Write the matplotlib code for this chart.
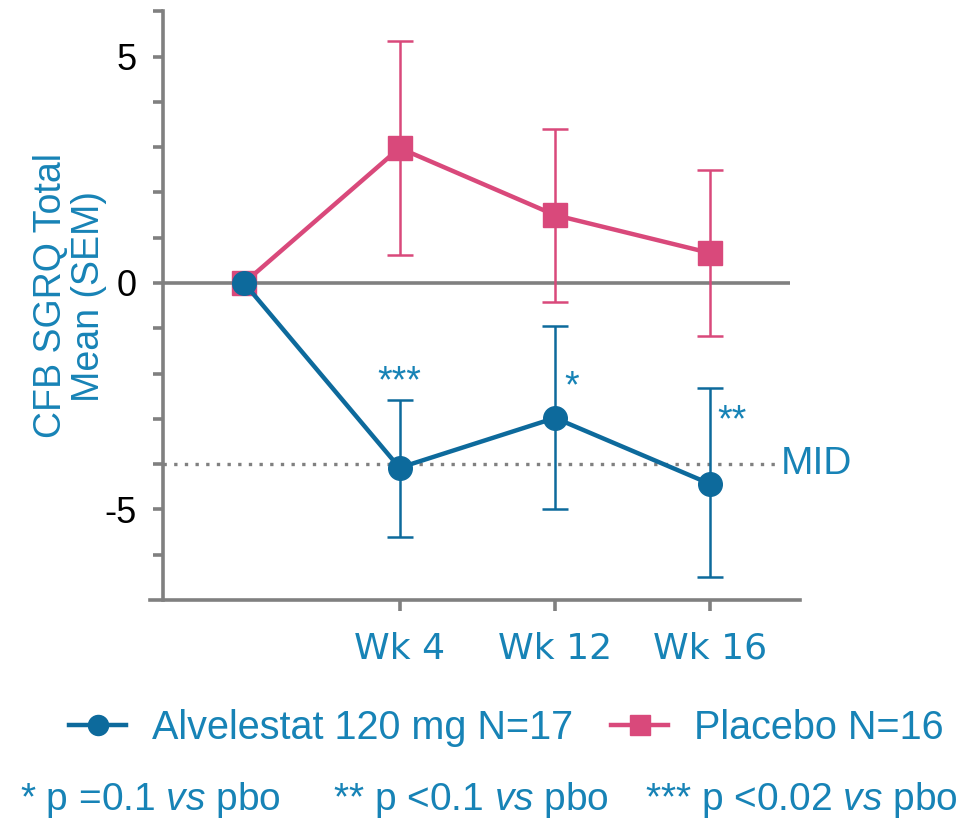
import matplotlib
matplotlib.use("Agg")
import matplotlib.pyplot as plt
import numpy as np

plt.rcParams['font.family'] = ['Liberation Sans', 'DejaVu Sans']
plt.rcParams['mathtext.fontset'] = 'custom'
plt.rcParams['mathtext.rm'] = 'Liberation Sans'
plt.rcParams['mathtext.it'] = 'Liberation Sans:italic'

# ---- data ----
x_pos = [0, 1, 2, 3]
x_ticks = [1, 2, 3]
x_labels = ["Wk 4", "Wk 12", "Wk 16"]

alv_mean = [0.0, -4.08, -2.98, -4.44]
alv_low = [-5.61, -4.99, -6.49]
alv_high = [-2.58, -0.95, -2.32]

pbo_mean = [0.0, 2.98, 1.50, 0.66]
pbo_low = [0.62, -0.42, -1.17]
pbo_high = [5.34, 3.40, 2.49]

mid_value = -4.0
stars = ["***", "*", "**"]
star_x = [1.0, 2.11, 3.14]
star_y = [-2.2, -2.3, -3.05]

alv_label = "Alvelestat 120 mg N=17"
pbo_label = "Placebo N=16"
footnotes = [r"* p =0.1 $\mathit{vs}$ pbo", r"** p <0.1 $\mathit{vs}$ pbo", r"*** p <0.02 $\mathit{vs}$ pbo"]

# ---- style ----
BLUE = "#0d6a9c"
TXT = "#1783b6"
PINK = "#d9497b"
GRAY = "#808080"

W, H = 979, 819
fig = plt.figure(figsize=(W / 100, H / 100), dpi=100)
ax = fig.add_axes([150 / W, 1 - 600 / H, 650 / W, (600 - 9) / H])

ax.set_xlim(-0.605, 3.576)
ax.set_ylim(-7, 6.05)

# zero line and MID line
ax.plot([-0.52, 3.51], [0, 0], color=GRAY, lw=2.6, zorder=1, solid_capstyle='butt')
ax.plot([-0.52, 3.43], [mid_value, mid_value], color=GRAY, lw=2.4, ls=(0, (1, 2.2)), zorder=1)
ax.text(3.45, mid_value, "MID", color=TXT, fontsize=28, va='center', ha='left')

# placebo
xe = x_pos[1:]
pm = np.array(pbo_mean[1:])
ax.errorbar(xe, pm, yerr=[pm - np.array(pbo_low), np.array(pbo_high) - pm],
            fmt='none', ecolor=PINK, elinewidth=1.8, capsize=9.5, capthick=1.8, zorder=2)
lp, = ax.plot(x_pos, pbo_mean, color=PINK, lw=3.2, marker='s', ms=17, label=pbo_label, zorder=3)

# alvelestat
am = np.array(alv_mean[1:])
ax.errorbar(xe, am, yerr=[am - np.array(alv_low), np.array(alv_high) - am],
            fmt='none', ecolor=BLUE, elinewidth=1.8, capsize=9.5, capthick=1.8, zorder=4)
la, = ax.plot(x_pos, alv_mean, color=BLUE, lw=3.2, marker='o', ms=17, label=alv_label, zorder=5)

for s, sx, sy in zip(stars, star_x, star_y):
    ax.text(sx, sy, s, color=TXT, fontsize=27, ha='center', va='center')

# spines
for s in ['top', 'right']:
    ax.spines[s].set_visible(False)
ax.spines['left'].set_position(('data', -0.52))
ax.spines['left'].set_bounds(-7, 6)
for s in ['left', 'bottom']:
    ax.spines[s].set_color(GRAY)
    ax.spines[s].set_linewidth(2.6)

ax.set_yticks([-5, 0, 5])
ax.set_yticklabels(["-5", "0", "5"])
ax.set_yticks([v for v in range(-6, 7) if v not in (-5, 0, 5)], minor=True)
ax.tick_params(axis='y', which='both', direction='out', length=7, width=2.6, color=GRAY,
               labelsize=26, labelcolor='black', pad=12)
ax.set_xticks(x_ticks)
ax.set_xticklabels(x_labels, fontfamily='DejaVu Sans')
ax.tick_params(axis='x', direction='out', length=8, width=2.6, color=GRAY,
               labelsize=26, labelcolor=TXT, pad=15)

fig.text(70 / W, 1 - 296 / H, "CFB SGRQ Total\nMean (SEM)", rotation=90, color=TXT,
         fontsize=27, ha='center', va='center', multialignment='center', linespacing=1.1)

fig.legend(handles=[la, lp], loc='center left', bbox_to_anchor=(69 / W, 1 - 728 / H),
           ncol=2, frameon=False, fontsize=28.5, labelcolor=TXT, borderpad=0, borderaxespad=0,
           handlelength=1.45, handletextpad=0.65, columnspacing=0.95, markerscale=0.85)

for t, xx in zip(footnotes, [20, 333, 645]):
    fig.text(xx / W, 1 - 800 / H, t, color=TXT, fontsize=28, ha='left', va='center')

fig.savefig("out.png", dpi=100)
